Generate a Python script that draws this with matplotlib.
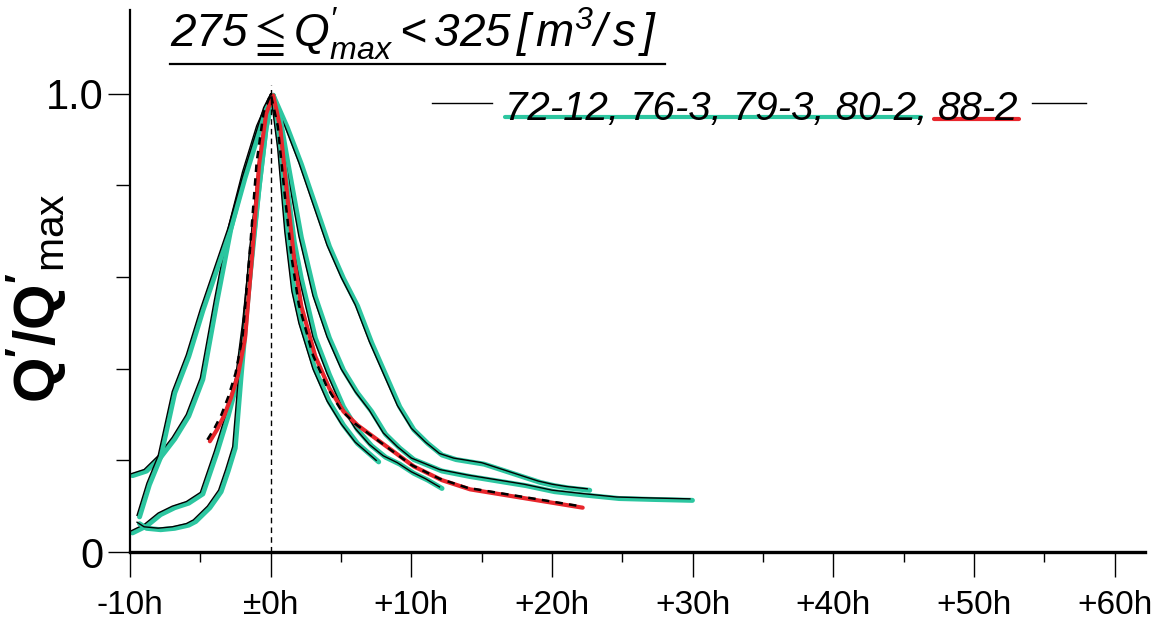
import numpy as np
import matplotlib.pyplot as plt
from matplotlib.lines import Line2D
from matplotlib.transforms import offset_copy

plt.rcParams['font.family'] = ['Liberation Sans', 'DejaVu Sans']
plt.rcParams['mathtext.fontset'] = 'custom'
plt.rcParams['mathtext.rm'] = 'Liberation Sans'
plt.rcParams['mathtext.it'] = 'Liberation Sans:italic'
plt.rcParams['mathtext.sf'] = 'Liberation Sans:italic'
plt.rcParams['mathtext.bf'] = 'Liberation Sans:bold'
plt.rcParams['mathtext.fallback'] = 'stix'

# hydrogrammes normalisés Q'/Q'max, temps relatif au pic (h)
events = ["72-12", "76-3", "79-3", "80-2", "88-2"]
highlight = ["teal", "teal", "teal", "teal", "red"]

t_72_12 = [-10, -9, -8, -7, -6, -5, -4, -3, -2, -1, 0, 1, 2, 3, 4, 5, 6, 7, 8, 9,
           10, 11, 12, 13, 14, 15, 16, 17, 18, 19, 20, 21, 22.5]
q_72_12 = [.17, .18, .21, .25, .30, .38, .55, .71, .83, .93, 1.0, .93, .85, .76, .67,
           .60, .54, .46, .39, .32, .27, .24, .215, .205, .20, .195, .185, .175, .165,
           .155, .148, .143, .138]

t_76_3 = [-9.5, -8.8, -8, -7, -6, -5, -4, -3, -2, -1, -0.5, 0, 0.5, 1, 2, 3, 4, 5, 6,
          7, 8, 9, 10, 12, 14, 16, 18, 20, 22, 24.6, 27, 29.8]
q_76_3 = [.08, .15, .21, .35, .43, .53, .62, .71, .82, .92, .97, 1.0, .95, .86, .69,
          .56, .47, .40, .35, .31, .26, .23, .205, .18, .168, .158, .148, .135, .128,
          .12, .118, .116]

t_79_3 = [-10, -9, -8, -7, -6, -5, -4, -3.2, -2.5, -2, -1.5, -1, -0.5, 0, 0.5, 1,
          1.5, 2, 3, 4, 5, 6, 7, 8, 9, 10, 11, 12]
q_79_3 = [.045, .06, .085, .10, .11, .13, .22, .30, .38, .50, .65, .80, .93, 1.0, .92,
          .80, .68, .60, .47, .39, .32, .27, .235, .21, .195, .175, .16, .142]

t_80_2 = [-9.5, -9, -8, -7, -6, -5.5, -4.5, -3.7, -3.2, -2.7, -2.3, -1.9, -1.5, -1,
          -0.5, 0, 0.5, 1, 1.5, 2, 3, 4, 5, 6, 7.5]
q_80_2 = [.065, .055, .052, .055, .062, .07, .10, .135, .18, .23, .38, .52, .66, .80,
          .93, 1.0, .88, .70, .57, .50, .40, .33, .28, .24, .20]

t_88_2 = [-4.5, -4, -3.5, -3, -2.5, -2, -1.5, -1, -0.5, 0, 0.5, 1, 1.5, 2, 3, 4, 5,
          6, 8, 10, 12, 14, 16, 18, 20, 22]
q_88_2 = [.245, .27, .30, .34, .39, .47, .65, .85, .96, 1.0, .93, .78, .64, .54, .43,
          .36, .31, .28, .235, .19, .16, .14, .13, .12, .11, .10]

series_t = [t_72_12, t_76_3, t_79_3, t_80_2, t_88_2]
series_q = [q_72_12, q_76_3, q_79_3, q_80_2, q_88_2]

peak_time = 0
x_ticks = [-10, 0, 10, 20, 30, 40, 50, 60]
x_labels = ["-10h", "\u00b10h", "+10h", "+20h", "+30h", "+40h", "+50h", "+60h"]
x_minor = [-5, 5, 15, 25, 35, 45, 55]
y_ticks = [0, 1.0]
y_labels = ["0", "1.0"]
y_minor = [0.2, 0.4, 0.6, 0.8]

TEAL = '#2cc6a0'
RED = '#e8262c'

W, H = 1156, 628
fig = plt.figure(figsize=(W / 100, H / 100), dpi=100)
ax = fig.add_axes([130 / W, 76 / H, 1015 / W, 542 / H])
ax.set_xlim(-10, 62.15)
ax.set_ylim(0, 1.183)

# surligneur décalé de quelques pixels par rapport au trait noir
marker_tr = offset_copy(ax.transData, fig=fig, x=2.5, y=-1.5, units='dots')

for t, q, hl in zip(series_t, series_q, highlight):
    if hl == "red":
        ax.plot(t, q, color=RED, lw=3.0, solid_capstyle='round', transform=marker_tr)
        ax.plot(t, q, color='k', lw=1.8, ls=(0, (3, 2.5)))
    else:
        ax.plot(t, q, color=TEAL, lw=3.6, solid_capstyle='round', transform=marker_tr)
        ax.plot(t, q, color='k', lw=1.0)

ax.vlines(peak_time, 0, 1.02, colors='k', lw=1.0, linestyles=(0, (4, 3)))

for s in ['top', 'right']:
    ax.spines[s].set_visible(False)
ax.spines['bottom'].set_linewidth(2.4)
ax.spines['left'].set_linewidth(1.6)

ax.set_xticks(x_ticks, x_labels)
ax.set_xticks(x_minor, minor=True)
ax.set_yticks(y_ticks, y_labels)
ax.set_yticks(y_minor, minor=True)
ax.tick_params(axis='x', which='major', length=18, width=1, pad=9, labelsize=24)
ax.tick_params(axis='x', which='minor', length=7, width=1)
ax.tick_params(axis='y', which='major', length=16, width=1, pad=3, labelsize=30)
ax.tick_params(axis='y', which='minor', length=10, width=1)

fig.text(36 / W, 1 - 298 / H, r"$\mathbf{Q^{\prime}/Q^{\prime}}_{\mathrm{max}}$",
         rotation=90, ha='center', va='center', fontsize=42)

title = fig.text(170 / W, 1 - 47 / H,
                 r"$\mathsf{275\leqq Q^{\prime}_{max}<325\,[\,m^{3}/\,s\,]}$",
                 fontsize=33, ha='left', va='baseline')

leg1 = fig.text(505 / W, 1 - 120 / H, ", ".join(events[:-1]) + ",",
                fontsize=29, style='italic', ha='left', va='baseline')

fig.canvas.draw()
r = fig.canvas.get_renderer()
bb1 = leg1.get_window_extent(r)
leg2 = fig.text((bb1.x1 + 11) / W, 1 - 120 / H, events[-1],
                fontsize=29, style='italic', ha='left', va='baseline')
fig.canvas.draw()
bb2 = leg2.get_window_extent(r)
bbt = title.get_window_extent(r)


def hline(x0, x1, y, **kw):
    fig.add_artist(Line2D([x0 / W, x1 / W], [y / H, y / H],
                          transform=fig.transFigure, **kw))


hline(bbt.x0, bbt.x1 + 8, H - 64, color='k', lw=1.6)
base = H - 120
hline(bb1.x0, bb1.x1 - 6, base + 3, color=TEAL, lw=3.0, solid_capstyle='round')
hline(bb2.x0 - 4, bb2.x1, base + 1, color=RED, lw=3.0, solid_capstyle='round')
mid = H - 103
hline(bb1.x0 - 73, bb1.x0 - 13, mid, color='k', lw=1.0)
hline(bb2.x1 + 13, bb2.x1 + 67, mid, color='k', lw=1.0)

fig.savefig('out.png', dpi=100, facecolor='white')
